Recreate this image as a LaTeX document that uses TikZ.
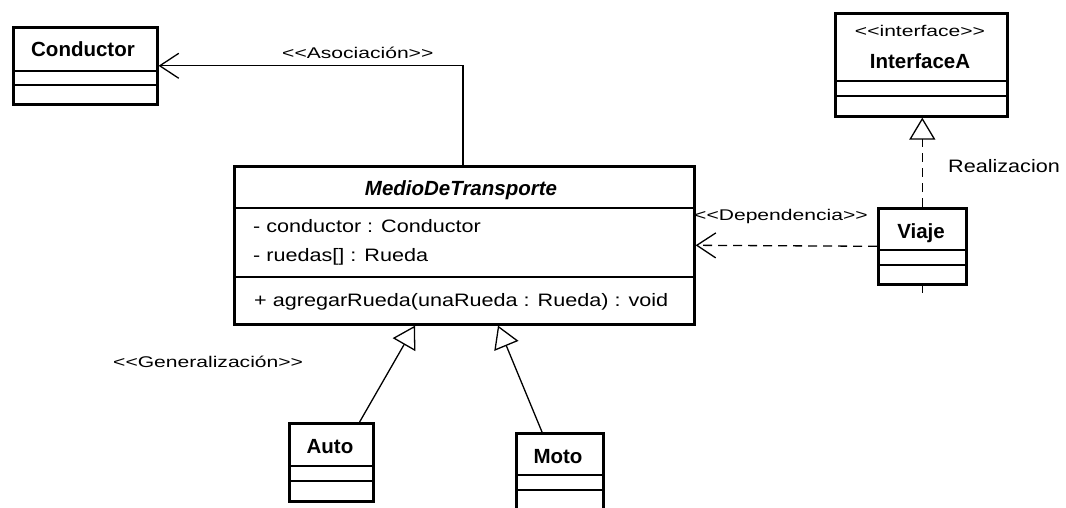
\documentclass[tikz,border=0pt]{standalone}
\usepackage{fontspec}
\setmainfont{Liberation Sans}
\newfontfamily\regf[FakeStretch=1.2]{Liberation Sans}
\newfontfamily\stf[FakeStretch=1.36]{Liberation Sans}
\usetikzlibrary{arrows.meta,calc}
\tikzset{
  cls/.style={draw, line width=2.6pt, fill=white, inner sep=0pt, anchor=north west},
  div/.style={line width=1.2pt},
  conn/.style={line width=1.3pt},
  dep/.style={conn, dash pattern=on 9pt off 6pt},
  titlef/.style={inner sep=0pt, anchor=base, font=\bfseries\fontsize{20.5}{22}\selectfont},
  attr/.style={inner sep=0pt, anchor=base west, font=\regf\fontsize{18}{20}\selectfont},
  stereo/.style={inner sep=0pt, anchor=base west, font=\stf\fontsize{15.5}{17}\selectfont},
  openv/.style={-{Straight Barb[length=19pt,width=25pt,line width=1.3pt]}},
  gen/.style={-{Triangle[open,length=22pt,width=26pt,line width=1.3pt]}},
}
\begin{document}
\begin{tikzpicture}[x=1pt,y=-1pt]
\useasboundingbox[fill=white] (0,0) rectangle (1066,508);

% Conductor
\node[cls, minimum width=144pt, minimum height=77pt] (cond) at (12,26) {};
\draw[div] (cond.west |- 0,71) -- (cond.east |- 0,71);
\draw[div] (cond.west |- 0,85) -- (cond.east |- 0,85);
\node[titlef] (condt) at (83,57) {Conductor};

% MedioDeTransporte
\node[cls, minimum width=460pt, minimum height=158pt] (medio) at (233,165) {};
\draw[div] (medio.west |- 0,208) -- (medio.east |- 0,208);
\draw[div] (medio.west |- 0,277) -- (medio.east |- 0,277);
\node[titlef, font=\bfseries\itshape\fontsize{20.5}{22}\selectfont] (mediot) at (461,195) {MedioDeTransporte};
\node[attr] (a1) at (253,233) {- conductor : Conductor};
\node[attr] (a2) at (253,261) {- ruedas[] : Rueda};
\node[attr] (m1) at (254,306) {+ agregarRueda(unaRueda : Rueda) : void};

% InterfaceA
\node[cls, minimum width=172pt, minimum height=103pt] (iface) at (834,12) {};
\draw[div] (iface.west |- 0,81) -- (iface.east |- 0,81);
\draw[div] (iface.west |- 0,96) -- (iface.east |- 0,96);
\node[inner sep=0pt, anchor=base, font=\stf\fontsize{15.5}{17}\selectfont] (ifst) at (920,37) {<<interface>>};
\node[titlef] (ifacet) at (920,69) {InterfaceA};

% Viaje
\node[cls, minimum width=88pt, minimum height=76pt] (viaje) at (877,207) {};
\draw[div] (viaje.west |- 0,250) -- (viaje.east |- 0,250);
\draw[div] (viaje.west |- 0,265) -- (viaje.east |- 0,265);
\node[titlef] (viajet) at (921,238) {Viaje};

% Auto
\node[cls, minimum width=84pt, minimum height=78pt] (auto) at (288,422) {};
\draw[div] (auto.west |- 0,466) -- (auto.east |- 0,466);
\draw[div] (auto.west |- 0,481) -- (auto.east |- 0,481);
\node[titlef] (autot) at (330,453) {Auto};

% Moto
\node[cls, minimum width=87pt, minimum height=90pt] (moto) at (515,432) {};
\draw[div] (moto.west |- 0,475) -- (moto.east |- 0,475);
\draw[div] (moto.west |- 0,490) -- (moto.east |- 0,490);
\node[titlef] (motot) at (558,463) {Moto};

% Association
\draw[conn, openv] ([xshift=230pt]medio.north west) |- (cond.east);
\node[stereo] (asoc) at (282,59) {<<Asociación>>};

% Dependency
\draw[dep, openv] (viaje.west) -- (medio.east);
\node[stereo] (depl) at (694,220) {<<Dependencia>>};

% Realization
\draw[dep, gen] (viaje.north) -- (viaje.north |- iface.south);
\draw[conn] (viaje.south) -- ++(0,7);
\node[attr] (real) at (948,173) {Realizacion};

% Generalization
\draw[conn, gen] ([xshift=-15pt]auto.north east) -- ([xshift=182pt]medio.south west);
\draw[conn, gen] ([xshift=27pt]moto.north west) -- ([xshift=265pt]medio.south west);
\node[stereo] (genl) at (113,367) {<<Generalización>>};
\end{tikzpicture}
\end{document}
